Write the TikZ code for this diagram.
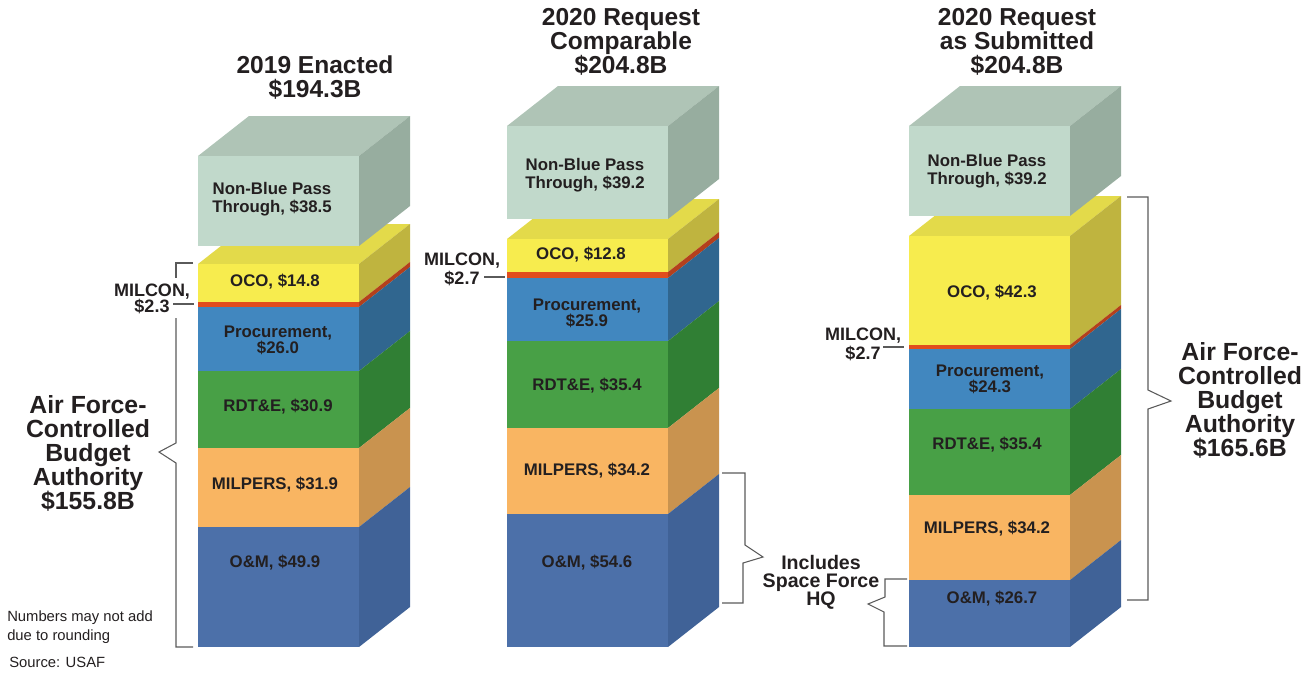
\documentclass[tikz,border=0pt]{standalone}
\usepackage{fontspec}
\setmainfont{Liberation Sans}
\definecolor{ink}{HTML}{231F20}
\definecolor{rule}{HTML}{5A5A5A}
\definecolor{nbF}{HTML}{C1D9CB}
\definecolor{nbT}{HTML}{AFC4B6}
\definecolor{nbS}{HTML}{97AD9F}
\definecolor{ocoF}{HTML}{F7EC4E}
\definecolor{ocoT}{HTML}{E3DA4A}
\definecolor{ocoS}{HTML}{BFB43F}
\definecolor{milF}{HTML}{E14D1D}
\definecolor{milS}{HTML}{B4401C}
\definecolor{proF}{HTML}{4187BF}
\definecolor{proS}{HTML}{30668F}
\definecolor{rdtF}{HTML}{48A046}
\definecolor{rdtS}{HTML}{307F34}
\definecolor{mpF}{HTML}{F9B562}
\definecolor{mpS}{HTML}{C9934F}
\definecolor{omF}{HTML}{4C70A9}
\definecolor{omS}{HTML}{406297}
\begin{document}
\begin{tikzpicture}[x=0.75pt,y=-0.75pt,
  lbl/.style={text=ink,font=\bfseries\fontsize{12.6}{13.9}\selectfont,align=center,inner sep=0pt},
  head/.style={text=ink,font=\bfseries\fontsize{18.4}{18}\selectfont,align=center,inner sep=0pt},
  side/.style={text=ink,font=\bfseries\fontsize{18.6}{18}\selectfont,align=center,inner sep=0pt},
  milc/.style={text=ink,font=\bfseries\fontsize{13.5}{14.3}\selectfont,align=center,inner sep=0pt},
  note/.style={text=ink,font=\fontsize{11.1}{14.25}\selectfont,align=left,inner sep=0pt,anchor=west},
  leader/.style={draw=rule,line width=0.8pt}]
\useasboundingbox (0,0) rectangle (1312,672);

% 2019 enacted
\begin{scope}[shift={(198,0)}]
\fill[ocoT] (0,264) -- (51,224) -- (212,224) -- (161,264) -- cycle;
\foreach \yt/\yb/\cf/\cs in {264/302/ocoF/ocoS,302/307/milF/milS,307/371/proF/proS,371/448/rdtF/rdtS,448/527/mpF/mpS,527/647/omF/omS}{
  \fill[\cf] (0,\yt) rectangle (161,\yb);
  \fill[\cs] (161,\yt) -- (212,\yt-40) -- (212,\yb-40) -- (161,\yb) -- cycle;
}
\fill[nbT] (0,156) -- (51,116) -- (212,116) -- (161,156) -- cycle;
\fill[nbF] (0,156) rectangle (161,246);
\fill[nbS] (161,156) -- (212,116) -- (212,206) -- (161,246) -- cycle;
\node[lbl] (c1nb) at (74,199) {Non-Blue Pass\\Through, \$38.5};
\node[lbl] (c1oco) at (77,282) {OCO, \$14.8};
\node[lbl] (c1pro) at (80,340) {Procurement,\\[-1.9pt]\$26.0};
\node[lbl] (c1rdt) at (80,407) {RDT\&E, \$30.9};
\node[lbl] (c1mp) at (77,485) {MILPERS, \$31.9};
\node[lbl] (c1om) at (77,563) {O\&M, \$49.9};
\end{scope}

% 2020 comparable
\begin{scope}[shift={(507,0)}]
\fill[ocoT] (0,239) -- (51,199) -- (212,199) -- (161,239) -- cycle;
\foreach \yt/\yb/\cf/\cs in {239/272/ocoF/ocoS,272/278/milF/milS,278/341/proF/proS,341/428/rdtF/rdtS,428/514/mpF/mpS,514/647/omF/omS}{
  \fill[\cf] (0,\yt) rectangle (161,\yb);
  \fill[\cs] (161,\yt) -- (212,\yt-40) -- (212,\yb-40) -- (161,\yb) -- cycle;
}
\fill[nbT] (0,126) -- (51,86) -- (212,86) -- (161,126) -- cycle;
\fill[nbF] (0,126) rectangle (161,219);
\fill[nbS] (161,126) -- (212,86) -- (212,179) -- (161,219) -- cycle;
\node[lbl] (c2nb) at (78,175) {Non-Blue Pass\\Through, \$39.2};
\node[lbl] (c2oco) at (74,255) {OCO, \$12.8};
\node[lbl] (c2pro) at (80,313) {Procurement,\\[-1.9pt]\$25.9};
\node[lbl] (c2rdt) at (80,386) {RDT\&E, \$35.4};
\node[lbl] (c2mp) at (80,471) {MILPERS, \$34.2};
\node[lbl] (c2om) at (80,563) {O\&M, \$54.6};
\end{scope}

% 2020 as submitted
\begin{scope}[shift={(909,0)}]
\fill[ocoT] (0,236) -- (51,196) -- (212,196) -- (161,236) -- cycle;
\foreach \yt/\yb/\cf/\cs in {236/345/ocoF/ocoS,345/349/milF/milS,349/409/proF/proS,409/495/rdtF/rdtS,495/580/mpF/mpS,580/647/omF/omS}{
  \fill[\cf] (0,\yt) rectangle (161,\yb);
  \fill[\cs] (161,\yt) -- (212,\yt-40) -- (212,\yb-40) -- (161,\yb) -- cycle;
}
\fill[nbT] (0,126) -- (51,86) -- (212,86) -- (161,126) -- cycle;
\fill[nbF] (0,126) rectangle (161,216);
\fill[nbS] (161,126) -- (212,86) -- (212,176) -- (161,216) -- cycle;
\node[lbl] (c3nb) at (78,171) {Non-Blue Pass\\Through, \$39.2};
\node[lbl] (c3oco) at (83,293) {OCO, \$42.3};
\node[lbl] (c3pro) at (81,379) {Procurement,\\[-1.9pt]\$24.3};
\node[lbl] (c3rdt) at (78,445) {RDT\&E, \$35.4};
\node[lbl] (c3mp) at (78,529) {MILPERS, \$34.2};
\node[lbl] (c3om) at (83,599) {O\&M, \$26.7};
\end{scope}

% titles
\node[head] (t1) at (315,78) {2019 Enacted\\\$194.3B};
\node[head] (t2) at (621,42) {2020 Request\\Comparable\\\$204.8B};
\node[head] (t3) at (1017,42) {2020 Request\\as Submitted\\\$204.8B};

% side labels
\node[side] (af1) at (88,453) {Air Force-\\Controlled\\Budget\\Authority\\\$155.8B};
\node[side] (af3) at (1240,400) {Air Force-\\Controlled\\Budget\\Authority\\\$165.6B};
\node[side,font=\bfseries\fontsize{14.7}{13.5}\selectfont] (inc) at (821,582) {Includes\\Space Force\\HQ};

% milcon
\node[milc] (m1) at (152,299) {MILCON,\\[-2.6pt]\$2.3};
\node[milc] (m2) at (462,269) {MILCON,\\\$2.7};
\node[milc] (m3) at (863,344) {MILCON,\\\$2.7};
\coordinate (m1a) at (173,304);
\coordinate (m2a) at (484,277);
\coordinate (m3a) at (883,347);
\draw[leader] (m1a) -- ++(21,0);
\draw[leader] (m2a) -- ++(21,0);
\draw[leader] (m3a) -- ++(21,0);

% brackets
\coordinate (b1t) at (193,263);
\coordinate (b1m) at (176,318);
\draw[leader] (b1t) -- (176,263) -- (176,278);
\draw[leader] (b1m) -- (176,443) -- (159,452) -- (176,463) -- (176,647) -- (193,647);
\coordinate (b2t) at (722,473);
\draw[leader] (b2t) -- (745,473) -- (745,545) -- (763,557) -- (743,563) -- (743,603) -- (722,603);
\coordinate (b3t) at (907,579);
\draw[leader] (b3t) -- (885,579) -- (885,597) -- (868,604) -- (884,612) -- (884,646) -- (907,646);
\coordinate (b4t) at (1127,197);
\draw[leader] (b4t) -- (1148,197) -- (1148,390) -- (1171,401) -- (1148,409) -- (1148,600) -- (1127,600);

% notes
\node[note] (nt) at (7,627.5) {Numbers may not add\\due to rounding};
\node[note] (src) at (9,662) {Source: USAF};
\end{tikzpicture}
\end{document}
